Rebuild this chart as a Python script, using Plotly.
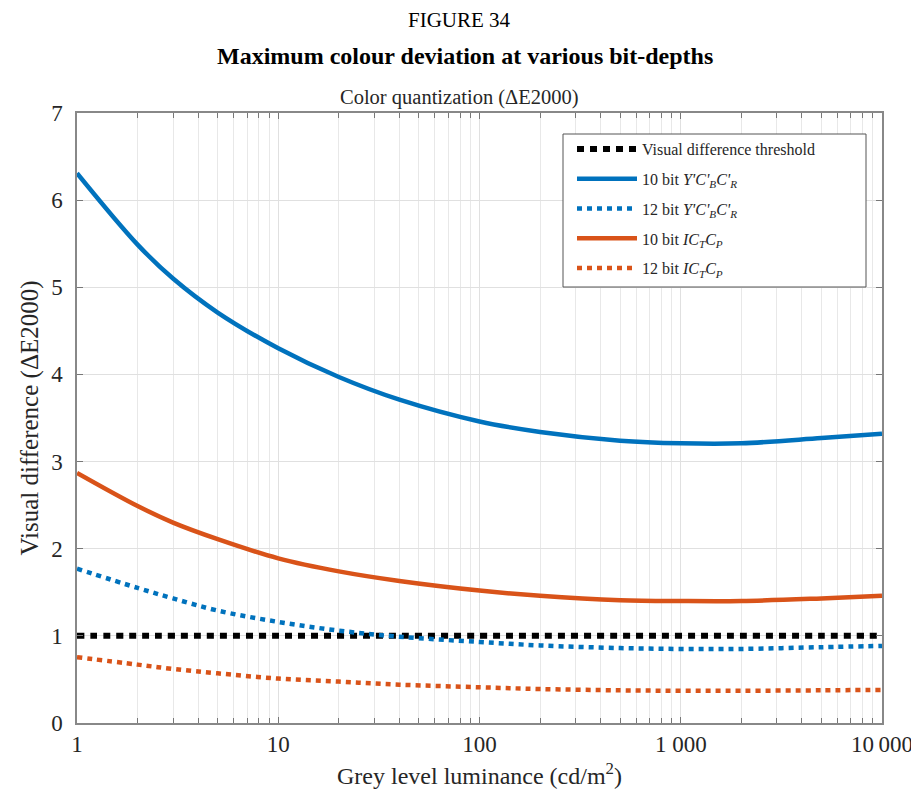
import plotly.graph_objects as go

# luminance sample points (cd/m2)
luminance = [1, 2, 3, 5, 10, 20, 40, 100, 200, 500, 1000, 2000, 5000, 10000]

threshold = [1.0] * len(luminance)
ycc_10bit = [6.31, 5.49, 5.10, 4.71, 4.30, 3.97, 3.71, 3.46, 3.34, 3.24, 3.21,
             3.21, 3.27, 3.32]
ycc_12bit = [1.77, 1.55, 1.43, 1.29, 1.16, 1.06, 0.99, 0.93, 0.89, 0.86, 0.85,
             0.85, 0.87, 0.885]
ictcp_10bit = [2.87, 2.49, 2.30, 2.11, 1.89, 1.74, 1.63, 1.52, 1.46, 1.41, 1.40,
               1.40, 1.43, 1.46]
ictcp_12bit = [0.755, 0.67, 0.62, 0.57, 0.51, 0.475, 0.44, 0.41, 0.39, 0.375,
               0.37, 0.37, 0.375, 0.38]

x_tickvals = [1, 10, 100, 1000, 10000]
x_ticktext = ["1", "10", "100", "1 000", "10\u2009000"]

BLUE = "#0072BD"
ORANGE = "#D95319"
SERIF = "Liberation Serif, Times New Roman, serif"
TXT = "#262626"

series = [
    ("Visual difference threshold", threshold, "black", 6, "7px,6px"),
    ("10 bit <i>Y'C'<sub>B</sub>C'<sub>R</sub></i>", ycc_10bit, BLUE, 4.5, "solid"),
    ("12 bit <i>Y'C'<sub>B</sub>C'<sub>R</sub></i>", ycc_12bit, BLUE, 4.5, "5px,5px"),
    ("10 bit <i>IC<sub>T</sub>C<sub>P</sub></i>", ictcp_10bit, ORANGE, 4.5, "solid"),
    ("12 bit <i>IC<sub>T</sub>C<sub>P</sub></i>", ictcp_12bit, ORANGE, 4.5, "5px,5px"),
]

fig = go.Figure()
for i, (name, vals, color, width, dash) in enumerate(series):
    fig.add_trace(go.Scatter(
        x=luminance, y=vals, mode="lines", name=name, legendgroup=f"g{i}",
        line=dict(color=color, width=width, dash=dash, shape="spline", smoothing=1.0),
    ))

# page has an 8px body margin, so the figure is sized to fit inside the window
W, H = 911, 794
L, R, T, B = 69, 37, 105, 79
plot_h = H - T - B
plot_w = W - L - R


def page_y(y):
    # page pixel row -> paper coordinate
    return 1 + (T + 8 - y) / plot_h


def page_x(x):
    return (x - L - 8) / plot_w


fig.update_layout(
    width=W,
    height=H,
    template="plotly_white",
    font=dict(family=SERIF, color=TXT),
    margin=dict(l=L, r=R, t=T, b=B),
    plot_bgcolor="white",
    showlegend=True,
    legend=dict(
        x=page_x(572), y=page_y(132), xanchor="left", yanchor="top",
        bgcolor="rgba(0,0,0,0)", borderwidth=0,
        font=dict(family=SERIF, size=16, color=TXT),
        itemwidth=60, tracegroupgap=6,
    ),
    # legend frame, drawn as a box so it can be wider than the entries
    shapes=[dict(type="rect", xref="paper", yref="paper",
                 x0=page_x(563), x1=page_x(866), y0=page_y(287), y1=page_y(134),
                 fillcolor="white", line=dict(color="#555", width=1), layer="above")],
    annotations=[
        dict(text="FIGURE 34", x=page_x(459), y=page_y(20), xref="paper", yref="paper",
             yanchor="middle", showarrow=False,
             font=dict(size=21, family=SERIF, color="black")),
        dict(text="<b>Maximum colour deviation at various bit-depths</b>",
             x=page_x(465), y=page_y(56), xref="paper", yref="paper",
             yanchor="middle", showarrow=False,
             font=dict(size=24, family=SERIF, color="black")),
        dict(text="Color quantization (ΔE2000)", x=page_x(459), y=page_y(97),
             xref="paper", yref="paper", yanchor="middle", showarrow=False,
             font=dict(size=20.5, family=SERIF, color=TXT)),
    ],
)

fig.update_xaxes(
    type="log", range=[0, 4],
    tickvals=x_tickvals, ticktext=x_ticktext, ticklabeloverflow="allow",
    tickfont=dict(size=23, family=SERIF, color=TXT),
    ticks="inside", ticklen=6, tickcolor="#777",
    showgrid=True, gridcolor="#e0e0e0", gridwidth=1,
    minor=dict(ticks="inside", ticklen=5, tickcolor="#777", showgrid=True,
               gridcolor="#e8e8e8", dtick="D1"),
    showline=True, linecolor="#888", linewidth=1.5, mirror="ticks",
    zeroline=False, automargin="height+bottom",
    title=dict(text="Grey level luminance (cd/m<sup>2</sup>)",
               font=dict(size=24, family=SERIF, color=TXT), standoff=11),
)
fig.update_yaxes(
    range=[0, 7], dtick=1,
    tickfont=dict(size=23, family=SERIF, color=TXT),
    ticks="inside", ticklen=6, tickcolor="#777", ticklabelstandoff=8,
    showgrid=True, gridcolor="#e0e0e0", gridwidth=1,
    showline=True, linecolor="#888", linewidth=1.5, mirror="ticks",
    zeroline=False, automargin="width+left",
    title=dict(text="Visual difference (ΔE2000)",
               font=dict(size=25, family=SERIF, color=TXT), standoff=5),
)

fig.write_html("out.html")
